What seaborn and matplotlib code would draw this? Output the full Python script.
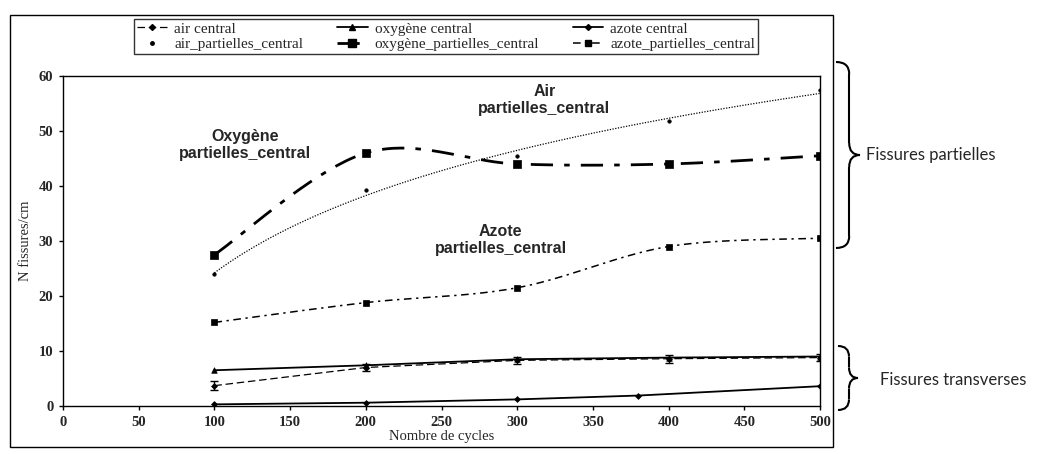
import numpy as np
import pandas as pd
import matplotlib
matplotlib.use("Agg")
import matplotlib.pyplot as plt
from matplotlib.lines import Line2D
from matplotlib.patches import Rectangle, PathPatch
from matplotlib.path import Path
import seaborn as sns

# ---- data -----------------------------------------------------------------
cycles = [100, 200, 300, 400, 500]

air_central = [3.7, 7.0, 8.3, 8.6, 8.8]
air_central_err = [0.8, 0.6, 0.7, 0.7, 0.7]
oxygene_central = [6.5, 7.4, 8.5, 8.8, 9.0]
azote_cycles = [100, 200, 300, 380, 500]
azote_central = [0.3, 0.6, 1.2, 1.9, 3.6]

air_partielles = [24.0, 39.3, 45.5, 51.8, 57.5]
oxygene_partielles = [27.5, 46.0, 44.0, 44.0, 45.5]
azote_partielles = [15.2, 18.8, 21.5, 29.0, 30.5]

x_ticks = [0, 50, 100, 150, 200, 250, 300, 350, 400, 450, 500]
y_ticks = [0, 10, 20, 30, 40, 50, 60]


def smooth(xs, ys, n=40):
    """Bezier smoothing through every point (Catmull-Rom style tangents)."""
    p = np.column_stack([xs, ys]).astype(float)
    ext = np.vstack([p[0], p, p[-1]])
    out = []
    t = np.linspace(0, 1, n)[:, None]
    for i in range(len(p) - 1):
        p0, p1, p2, p3 = ext[i], ext[i + 1], ext[i + 2], ext[i + 3]
        c1 = p1 + (p2 - p0) / 6.0
        c2 = p2 - (p3 - p1) / 6.0
        seg = ((1 - t) ** 3) * p1 + 3 * ((1 - t) ** 2) * t * c1 \
            + 3 * (1 - t) * t ** 2 * c2 + t ** 3 * p2
        out.append(seg if i == 0 else seg[1:])
    s = np.vstack(out)
    return s[:, 0], s[:, 1]


def log_trend(xs, ys, n=120):
    """Least-squares logarithmic trend line y = a*ln(x) + b."""
    a, b = np.polyfit(np.log(xs), ys, 1)
    tx = np.linspace(min(xs), max(xs), n)
    return tx, a * np.log(tx) + b


# ---- style ----------------------------------------------------------------
sns.set_theme(style="white")
plt.rcParams["font.family"] = ["Liberation Serif", "DejaVu Serif"]

fig = plt.figure(figsize=(10.45, 4.54), dpi=100)
ax = fig.add_axes([63 / 1045, 1 - 406 / 454, (820 - 63) / 1045, (406 - 76) / 454])

K = "black"

# name, x, y, line mode, linestyle, lw, marker, ms
series = [
    ("air central", cycles, air_central, "straight", (0, (6, 3)), 0.9, "D", 3),
    ("oxygène central", cycles, oxygene_central, "straight", "-", 1.3, "^", 4),
    ("azote central", azote_cycles, azote_central, "straight", "-", 1.3, "D", 3),
    ("air_partielles_central", cycles, air_partielles, "trend", (0, (1, 1.2)), 0.9, "o", 2.5),
    ("oxygène_partielles_central", cycles, oxygene_partielles, "smooth", (0, (8, 4, 2, 4)), 2.0, "s", 5.5),
    ("azote_partielles_central", cycles, azote_partielles, "smooth", (0, (5, 3, 1.5, 3)), 1.1, "s", 5),
]

for name, xs, ys, mode, ls, lw, mk, ms in series:
    if mode == "smooth":
        lx, ly = smooth(xs, ys)
    elif mode == "trend":
        lx, ly = log_trend(xs, ys)
    else:
        lx, ly = np.asarray(xs, float), np.asarray(ys, float)
    df = pd.DataFrame({"x": lx, "y": ly})
    sns.lineplot(data=df, x="x", y="y", ax=ax, color=K, lw=lw, sort=False,
                 estimator=None, linestyle=ls)
    pts = pd.DataFrame({"x": xs, "y": ys})
    sns.scatterplot(data=pts, x="x", y="y", ax=ax, color=K, marker=mk,
                    s=ms ** 2, edgecolor=K, linewidth=0.5, zorder=4)

ax.errorbar(cycles, air_central, yerr=air_central_err, fmt="none",
            ecolor=K, elinewidth=1.0, capsize=3, capthick=1.0, zorder=3)

# axes
ax.set_xlim(0, 500)
ax.set_ylim(0, 60)
ax.set_xticks(x_ticks)
ax.set_yticks(y_ticks)
ax.tick_params(axis="both", direction="out", length=3, width=1, color=K,
               labelsize=10.5, pad=4, bottom=True, left=True)
for lab in ax.get_xticklabels() + ax.get_yticklabels():
    lab.set_fontweight("bold")
for sp in ax.spines.values():
    sp.set_color(K)
    sp.set_linewidth(1.0)
ax.set_xlabel("Nombre de cycles", fontsize=10.5, labelpad=1)
ax.set_ylabel("N fissures/cm", fontsize=10.5, labelpad=5)

# curve labels
lab_kw = dict(ha="center", va="center", fontsize=11.5, fontweight="bold",
              family=["Liberation Sans", "DejaVu Sans"], linespacing=1.15)
ax.text(120, 47.5, "Oxygène\npartielles_central", **lab_kw)
ax.text(318, 55.6, "Air\npartielles_central", **lab_kw)
ax.text(289, 30.2, "Azote\npartielles_central", **lab_kw)

# legend (the air_partielles entry shows only its marker)
order = [0, 3, 1, 4, 2, 5]
handles = []
for i in order:
    name, xs, ys, mode, ls, lw, mk, ms = series[i]
    handles.append(Line2D([], [], color=K, linestyle="none" if mode == "trend" else ls,
                          lw=lw, marker=mk, markersize=ms, label=name))
leg = fig.legend(handles=handles, ncol=3, loc="upper left",
                 bbox_to_anchor=(134 / 1045, 1 - 19 / 454),
                 frameon=True, fancybox=False, edgecolor=K, fontsize=11,
                 handlelength=2.0, handletextpad=0.45, columnspacing=2.2,
                 labelspacing=0.1, borderpad=0.2, borderaxespad=0)
leg.get_frame().set_linewidth(1.0)

# outer frame
fig.patches.append(Rectangle((10 / 1045, 1 - 447 / 454), (833 - 10) / 1045,
                             (447 - 15) / 454, transform=fig.transFigure,
                             fill=False, edgecolor=K, lw=1.0))


def draw_brace(x0, y_top, y_bot, w):
    ym = (y_top + y_bot) / 2
    xm = x0 + w * 0.55
    r = min(12, (y_bot - y_top) / 6)
    segs = [
        [(x0, y_top), (xm, y_top), (xm, y_top + r)],
        [(xm, y_top + r), (xm, ym - r)],
        [(xm, ym - r), (xm, ym), (x0 + w, ym)],
        [(x0 + w, ym), (xm, ym), (xm, ym + r)],
        [(xm, ym + r), (xm, y_bot - r)],
        [(xm, y_bot - r), (xm, y_bot), (x0, y_bot)],
    ]
    for s in segs:
        v = [(px / 1045, 1 - py / 454) for px, py in s]
        c = [Path.MOVETO] + ([Path.CURVE3, Path.CURVE3] if len(s) == 3 else [Path.LINETO])
        fig.patches.append(PathPatch(Path(v, c), transform=fig.transFigure,
                                     fill=False, edgecolor=K, lw=1.5))


draw_brace(836, 62, 248, 24)
draw_brace(838, 346, 410, 20)

side_kw = dict(ha="left", va="center", fontsize=12,
               family=["Lato", "DejaVu Sans"], transform=fig.transFigure)
fig.text(866 / 1045, 1 - 155 / 454, "Fissures partielles", **side_kw)
fig.text(880 / 1045, 1 - 380 / 454, "Fissures transverses", **side_kw)

fig.savefig("out.png", dpi=100)
